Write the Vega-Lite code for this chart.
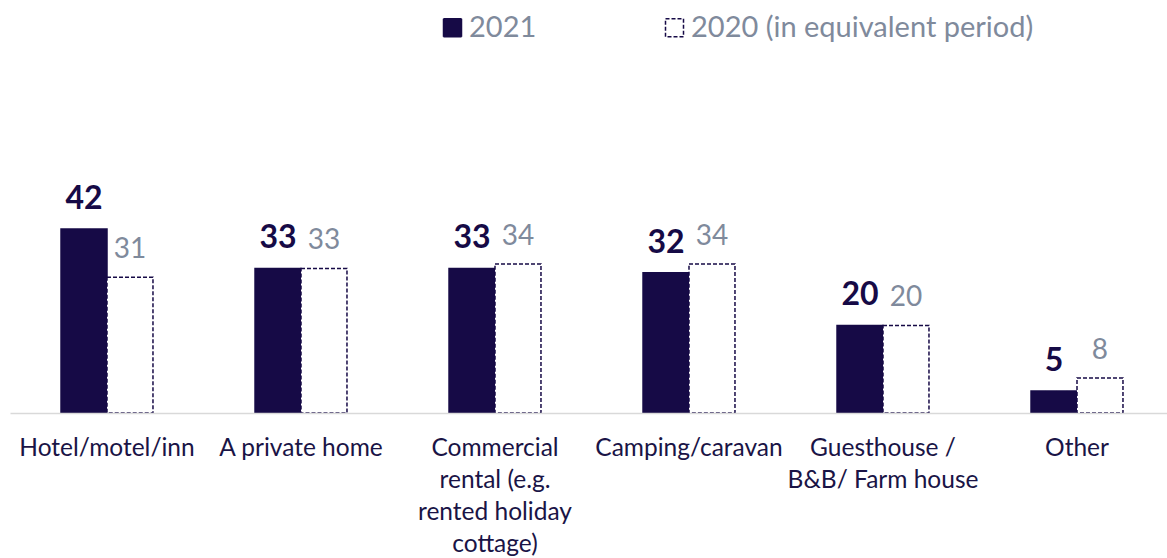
{
  "$schema": "https://vega.github.io/schema/vega-lite/v6.json",
  "width": 1164,
  "height": 353,
  "autosize": {"type": "none"},
  "padding": {"left": 10, "top": 60, "right": 0, "bottom": 145},
  "background": "#ffffff",
  "config": {"view": {"stroke": null}},
  "data": {
    "values": [
      {"cat": "Hotel/motel/inn", "year": "2021", "value": 42},
      {"cat": "Hotel/motel/inn", "year": "2020 (in equivalent period)", "value": 31},
      {"cat": "A private home", "year": "2021", "value": 33},
      {"cat": "A private home", "year": "2020 (in equivalent period)", "value": 33},
      {"cat": "Commercial|rental (e.g.|rented holiday|cottage)", "year": "2021", "value": 33},
      {"cat": "Commercial|rental (e.g.|rented holiday|cottage)", "year": "2020 (in equivalent period)", "value": 34},
      {"cat": "Camping/caravan", "year": "2021", "value": 32},
      {"cat": "Camping/caravan", "year": "2020 (in equivalent period)", "value": 34},
      {"cat": "Guesthouse /|B&B/ Farm house", "year": "2021", "value": 20},
      {"cat": "Guesthouse /|B&B/ Farm house", "year": "2020 (in equivalent period)", "value": 20},
      {"cat": "Other", "year": "2021", "value": 5},
      {"cat": "Other", "year": "2020 (in equivalent period)", "value": 8}
    ]
  },
  "encoding": {
    "x": {
      "field": "cat",
      "type": "nominal",
      "sort": null,
      "scale": {"paddingInner": 0.526, "paddingOuter": 0.263},
      "axis": {
        "title": null,
        "labelExpr": "split(datum.label, '|')",
        "labelAngle": 0,
        "ticks": false,
        "domainColor": "#d9d9d9",
        "domainWidth": 1.5,
        "labelPadding": 23,
        "labelFont": "Lato",
        "labelFontSize": 24.5,
        "labelColor": "#1a1446",
        "labelLineHeight": 32,
        "labelLimit": 400,
        "zindex": 1
      }
    },
    "xOffset": {
      "field": "year",
      "type": "nominal",
      "sort": ["2021", "2020 (in equivalent period)"],
      "scale": {"paddingInner": 0, "paddingOuter": 0}
    },
    "y": {
      "field": "value",
      "type": "quantitative",
      "scale": {"domain": [0, 80.6], "nice": false},
      "axis": null
    }
  },
  "layer": [
    {
      "mark": {"type": "bar", "strokeWidth": 1.5},
      "encoding": {
        "fill": {
          "field": "year",
          "type": "nominal",
          "scale": {"domain": ["2021", "2020 (in equivalent period)"], "range": ["#160a46", "#ffffff"]},
          "legend": {
            "title": null,
            "orient": "none",
            "legendX": 428,
            "legendY": -47,
            "direction": "horizontal",
            "columns": 2,
            "columnPadding": 123,
            "symbolType": "square",
            "symbolSize": 324,
            "symbolStrokeWidth": 1.5,
            "labelFont": "Lato",
            "labelFontSize": 29,
            "labelColor": "#7f8a9c",
            "labelOffset": 2,
            "labelLimit": 500
          }
        },
        "stroke": {
          "field": "year",
          "type": "nominal",
          "scale": {"domain": ["2021", "2020 (in equivalent period)"], "range": ["#160a46", "#160a46"]}
        },
        "strokeDash": {
          "field": "year",
          "type": "nominal",
          "scale": {"domain": ["2021", "2020 (in equivalent period)"], "range": [[1, 0], [4, 2]]}
        }
      }
    },
    {
      "transform": [{"filter": "datum.year == '2021'"}],
      "mark": {"type": "text", "font": "Lato", "fontWeight": "bold", "fontSize": 32, "color": "#160a46", "baseline": "alphabetic", "dy": -20},
      "encoding": {"text": {"field": "value", "type": "quantitative"}}
    },
    {
      "transform": [{"filter": "datum.year != '2021'"}],
      "mark": {"type": "text", "font": "Lato", "fontSize": 28, "color": "#7f8a9c", "baseline": "alphabetic", "dy": -19},
      "encoding": {"text": {"field": "value", "type": "quantitative"}}
    }
  ]
}
